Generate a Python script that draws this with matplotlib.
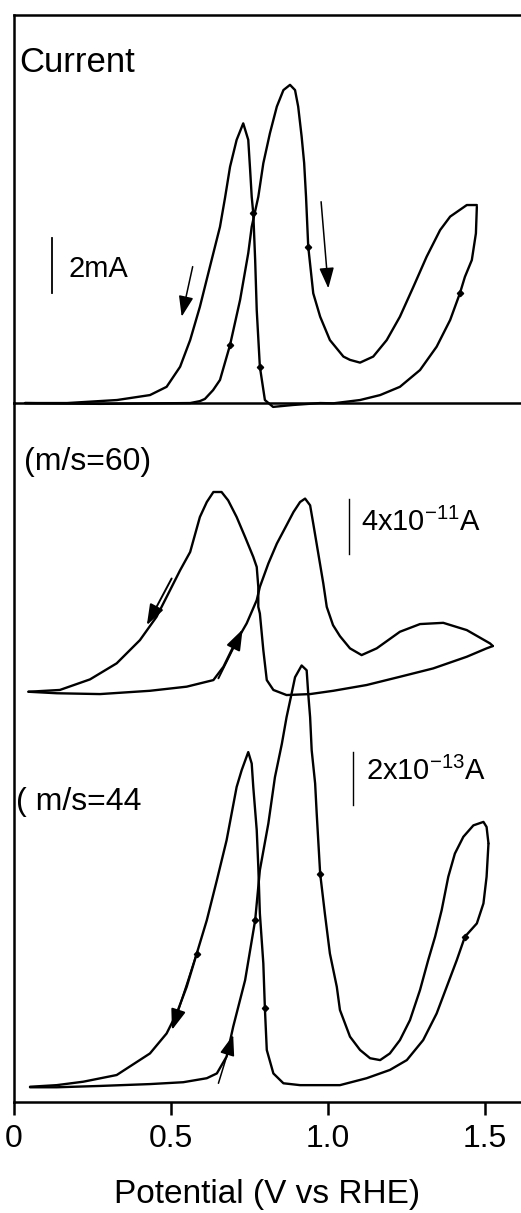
import matplotlib
matplotlib.use("Agg")
import matplotlib.pyplot as plt

plt.rcParams.update({
    "font.family": ["Liberation Sans", "DejaVu Sans"],
    "mathtext.fontset": "custom",
    "mathtext.rm": "Liberation Sans",
    "mathtext.it": "Liberation Sans:italic",
    "mathtext.default": "regular",
})

# ---- CV, total current (mA) ----
cur_fwd_E = [0.035, 0.274, 0.561, 0.592, 0.608, 0.634, 0.656, 0.688, 0.720, 0.746,
             0.757, 0.778, 0.794, 0.815, 0.837, 0.858, 0.879, 0.895, 0.905, 0.916,
             0.924, 0.930, 0.937, 0.953, 0.975, 1.006, 1.049, 1.070, 1.102, 1.144,
             1.187, 1.229, 1.272, 1.314, 1.357, 1.389, 1.442, 1.474]
cur_fwd_I = [-0.02, -0.05, -0.02, 0.05, 0.13, 0.45, 0.82, 2.09, 3.73, 5.43,
             6.39, 7.48, 8.70, 9.79, 10.76, 11.36, 11.55, 11.36, 10.76, 9.67,
             8.71, 7.48, 5.67, 3.97, 3.12, 2.27, 1.67, 1.55, 1.45, 1.67,
             2.27, 3.12, 4.21, 5.30, 6.27, 6.76, 7.18, 7.18]
cur_rev_E = [1.474, 1.471, 1.458, 1.436, 1.420, 1.389, 1.346, 1.293, 1.229, 1.166,
             1.102, 1.017, 0.975, 0.889, 0.825, 0.799, 0.783, 0.773, 0.768, 0.762,
             0.757, 0.752, 0.746, 0.730, 0.709, 0.688, 0.672, 0.656, 0.624, 0.592,
             0.561, 0.529, 0.486, 0.433, 0.328, 0.169, 0.035]
cur_rev_I = [7.12, 6.15, 5.18, 4.57, 3.97, 3.00, 2.03, 1.18, 0.57, 0.27,
             0.09, -0.03, -0.02, -0.09, -0.16, 0.09, 1.30, 3.36, 5.18, 6.88,
             7.48, 8.45, 9.55, 10.15, 9.55, 8.57, 7.44, 6.39, 4.94, 3.48,
             2.27, 1.30, 0.57, 0.27, 0.09, -0.02, -0.02]

# ---- ion current m/s = 60 (units of 1e-11 A) ----
m60_fwd_E = [0.046, 0.136, 0.274, 0.433, 0.550, 0.635, 0.667, 0.698, 0.741, 0.773,
             0.783, 0.810, 0.837, 0.868, 0.890, 0.911, 0.927, 0.943, 0.953, 0.969,
             0.985, 0.996, 1.016, 1.038, 1.070, 1.107, 1.155, 1.229, 1.293, 1.367,
             1.442, 1.516, 1.525]
m60_fwd_I = [0.02, -0.09, -0.15, 0.09, 0.39, 0.87, 1.84, 3.29, 5.00, 6.69,
             7.66, 9.36, 10.81, 12.15, 13.11, 13.84, 14.09, 13.60, 12.27, 10.09,
             7.91, 6.20, 4.87, 4.07, 3.18, 2.69, 3.18, 4.39, 4.95, 5.04,
             4.51, 3.54, 3.35]
m60_rev_E = [1.525, 1.505, 1.442, 1.335, 1.229, 1.123, 1.017, 0.943, 0.868, 0.826,
             0.805, 0.794, 0.783, 0.778, 0.778, 0.773, 0.762, 0.736, 0.709, 0.682,
             0.661, 0.635, 0.614, 0.592, 0.561, 0.529, 0.497, 0.454, 0.401, 0.327,
             0.242, 0.146, 0.046]
m60_rev_I = [3.35, 3.18, 2.57, 1.72, 1.11, 0.51, 0.09, -0.15, -0.22, 0.15,
             0.87, 3.05, 5.72, 6.20, 7.66, 9.11, 9.84, 11.29, 12.75, 13.96,
             14.57, 14.57, 13.84, 12.75, 10.20, 8.87, 7.42, 5.48, 3.78, 2.09,
             0.92, 0.15, 0.02]

# ---- ion current m/s = 44 (units of 1e-13 A) ----
m44_fwd_E = [0.051, 0.136, 0.274, 0.433, 0.539, 0.614, 0.646, 0.677, 0.698, 0.736,
             0.768, 0.783, 0.810, 0.831, 0.853, 0.868, 0.884, 0.895, 0.916, 0.932,
             0.937, 0.943, 0.948, 0.959, 0.964, 0.975, 0.990, 1.006, 1.028, 1.038,
             1.070, 1.102, 1.134, 1.166, 1.197, 1.229, 1.261, 1.293, 1.319, 1.341,
             1.362, 1.383, 1.404, 1.431, 1.463, 1.495, 1.505, 1.511]
m44_fwd_I = [-0.01, -0.01, 0.04, 0.11, 0.18, 0.33, 0.51, 1.14, 2.26, 4.01,
             6.26, 8.14, 9.89, 11.63, 12.88, 13.88, 14.76, 15.38, 15.82, 15.64,
             14.76, 13.88, 12.64, 11.39, 10.26, 8.01, 6.51, 5.01, 3.76, 2.89,
             1.89, 1.39, 1.08, 1.01, 1.26, 1.76, 2.51, 3.64, 4.76, 5.64,
             6.64, 7.89, 8.76, 9.39, 9.82, 9.95, 9.76, 9.14]
m44_rev_E = [1.511, 1.505, 1.495, 1.474, 1.436, 1.410, 1.378, 1.346, 1.303, 1.251,
             1.197, 1.123, 1.038, 0.911, 0.858, 0.826, 0.805, 0.799, 0.794, 0.783,
             0.778, 0.773, 0.762, 0.757, 0.746, 0.725, 0.709, 0.677, 0.646, 0.614,
             0.582, 0.550, 0.518, 0.486, 0.433, 0.327, 0.221, 0.136, 0.051]
m44_rev_I = [9.14, 7.89, 6.89, 6.14, 5.64, 4.76, 3.76, 2.76, 1.76, 1.01,
             0.64, 0.33, 0.07, 0.07, 0.14, 0.51, 1.39, 2.95, 4.64, 6.51,
             8.26, 9.64, 11.26, 12.14, 12.57, 11.89, 11.26, 9.26, 7.76, 6.26,
             5.01, 3.76, 2.76, 2.01, 1.26, 0.45, 0.20, 0.07, 0.01]

xticks = [0, 0.5, 1.0, 1.5]
xtick_labels = ["0", "0.5", "1.0", "1.5"]

W, H = 521, 1213
fig = plt.figure(figsize=(W / 100, H / 100), dpi=100)

def px_axes(x0, y0, x1, y1):
    # axes rectangle from pixel corners (top-left origin)
    return fig.add_axes([x0 / W, 1 - y1 / H, (x1 - x0) / W, (y1 - y0) / H])

XLIM = (-0.0016, 1.6146)
LW = 1.7

ax_top = px_axes(13.5, 15, W, 402.5)
ax_low = px_axes(13.5, 402.5, W, 1102)
ax_mid = px_axes(13.5, 402.5, W, 702)

for ax in (ax_top, ax_low, ax_mid):
    ax.set_xlim(*XLIM)
    ax.patch.set_alpha(0)
    ax.set_yticks([])
    for s in ax.spines.values():
        s.set_linewidth(1.8)
ax_top.set_ylim(0, 14.09)
ax_mid.set_ylim(-0.727, 21.09)
ax_low.set_ylim(-0.5625, 25.69)

ax_top.spines["right"].set_visible(False)
ax_top.set_xticks([])
ax_mid.axis("off")
ax_low.spines["right"].set_visible(False)
ax_low.spines["top"].set_visible(False)

ax_low.set_xticks(xticks)
ax_low.set_xticklabels(xtick_labels, fontsize=23)
ax_low.tick_params(axis="x", direction="out", length=9, width=1.8, pad=7)
ax_low.set_xlabel("Potential (V vs RHE)", fontsize=24, labelpad=18)

def draw_cv(ax, fE, fI, rE, rI):
    for E, I in ((fE, fI), (rE, rI)):
        ax.plot(E, I, color="black", lw=LW, clip_on=False,
                solid_joinstyle="round", solid_capstyle="round")

draw_cv(ax_top, cur_fwd_E, cur_fwd_I, cur_rev_E, cur_rev_I)
draw_cv(ax_mid, m60_fwd_E, m60_fwd_I, m60_rev_E, m60_rev_I)
draw_cv(ax_low, m44_fwd_E, m44_fwd_I, m44_rev_E, m44_rev_I)

# small sweep-direction dots on the curves
def dots(ax, E, I, idx):
    ax.plot([E[i] for i in idx], [I[i] for i in idx], "D", color="black", ms=3.2,
            clip_on=False)

dots(ax_top, cur_fwd_E, cur_fwd_I, [7, 22])
dots(ax_top, cur_rev_E, cur_rev_I, [4, 16, 19])
dots(ax_low, m44_fwd_E, m44_fwd_I, [10, 25])
dots(ax_low, m44_rev_E, m44_rev_I, [4, 17, 30])

def arrow(ax, tail, tip, lw=1.1):
    ax.annotate("", xy=tip, xytext=tail,
                arrowprops=dict(arrowstyle="-|>,head_length=0.7,head_width=0.25",
                                mutation_scale=18, color="black", lw=lw,
                                shrinkA=0, shrinkB=0))

arrow(ax_top, (0.569, 4.94), (0.534, 3.12))
arrow(ax_top, (0.978, 7.30), (1.001, 4.15))
arrow(ax_mid, (0.502, 8.27), (0.423, 4.87), lw=1.4)
arrow(ax_mid, (0.651, 1.00), (0.728, 4.56), lw=1.4)
arrow(ax_low, (0.582, 5.01), (0.503, 2.14), lw=1.4)
arrow(ax_low, (0.651, 0.14), (0.698, 1.95))

# scale bars
bar_top, bar_mid, bar_low = 2, 4, 2
ax_top.plot([0.120, 0.120], [3.98, 3.98 + bar_top], color="black", lw=1.3)
ax_mid.plot([1.068, 1.068], [10.09, 10.09 + bar_mid], color="black", lw=1.0)
ax_low.plot([1.081, 1.081], [10.57, 10.57 + bar_low], color="black", lw=1.0)

def ftext(x, y, s, size):
    fig.text(x / W, 1 - y / H, s, fontsize=size, va="baseline", ha="left")

ftext(19, 72, "Current", 25)
ftext(69, 277, "%dmA" % bar_top, 21)
ftext(24, 470, "(m/s=60)", 23)
ftext(361, 531, r"%dx10$^{-11}$A" % bar_mid, 21)
ftext(16, 810, "( m/s=44", 23)
ftext(366, 780, r"%dx10$^{-13}$A" % bar_low, 21)

fig.savefig("out.png", dpi=100)
